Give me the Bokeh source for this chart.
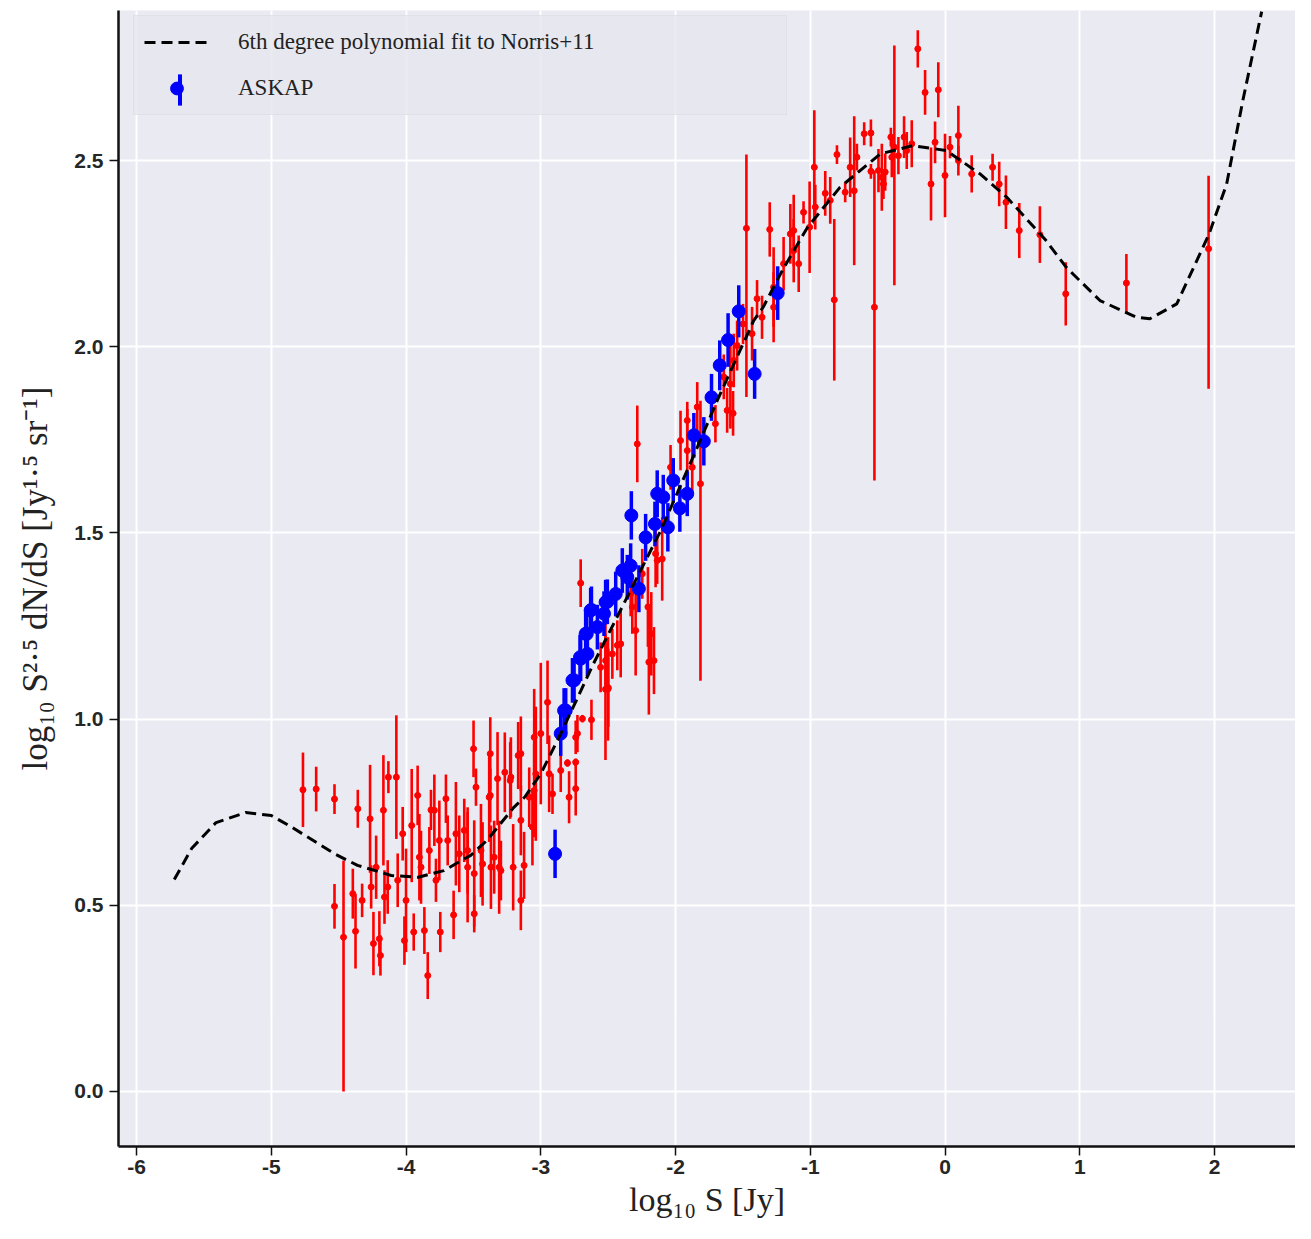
import numpy as np
from bokeh.plotting import figure
from bokeh.models import ColumnDataSource, Range1d, FixedTicker, Legend, LegendItem
from bokeh.embed import file_html
from bokeh.resources import INLINE

# ---------------- data ----------------
# Norris+11 (red) points with symmetric errors
red_x = [-4.765, -4.667, -4.531, -4.531, -4.395, -4.358, -4.375, -4.326, -4.267, -4.259,
         -4.242, -4.222, -4.198, -4.190, -4.168, -4.160, -4.131, -4.136, -4.072, -4.062,
         -4.025, -4.012, -4.000, -3.958, -3.943, -3.914, -3.901, -3.889, -3.864, -3.839,
         -3.827, -3.815, -3.790, -3.778, -3.746, -3.753, -3.704, -3.691, -3.647, -3.630,
         -3.605, -3.568, -3.543, -3.499, -3.481, -3.494, -3.432, -3.383, -3.375, -3.375,
         -3.321, -3.309, -3.346, -3.267, -3.227, -3.205, -3.168, -3.370, -3.296, -3.222,
         -3.148, -3.124, -3.086, -3.062, -3.037, -3.000, -2.950, -2.938, -2.913, -2.852,
         -2.802, -2.790, -2.741, -2.741, -2.691, -2.624, -2.501, -3.049, -3.148, -2.728,
         -3.543, -3.494, -3.444, -3.148, -3.049, -2.741,
         -2.704, -2.284, -2.499, -2.520, -2.198, -2.180, -2.205, -2.099, -2.296, -2.321,
         -2.432, -2.469, -2.556, -1.963, -1.913, -1.876, -2.037, -1.704, -1.617, -1.573,
         -2.136, -2.247, -1.839, -1.568, -1.543, -1.593, -1.499, -1.432, -1.913, -1.642,
         -2.148, -2.160, -2.407, -2.519, -2.333,
         -1.301, -1.395, -1.358, -1.272, -1.198, -1.123, -1.086, -1.050, -1.005, -0.970,
         -0.889, -0.852, -0.822, -0.802, -0.741, -0.704, -0.674, -0.654, -0.600, -0.550,
         -0.550, -0.494, -0.469, -0.444, -0.395, -0.346, -0.304, -0.284, -0.247, -0.202,
         -0.148, -0.050, -0.104, -0.074, 0.000, 0.037, 0.099, 0.099, 0.198, 0.353,
         0.402, 0.452, 0.551, 0.704, 0.896, 1.346, -1.272, -1.123, -1.148, -0.963,
         -0.457, -0.402]
red_y = [0.810, 0.812, 0.785, 0.497, 0.531, 0.759, 0.430, 0.513, 0.732, 0.549,
         0.397, 0.602, 0.410, 0.365, 0.755, 0.522, 0.844, 0.549, 0.844, 0.567,
         0.692, 0.405, 0.513, 0.714, 0.428, 0.795, 0.629, 0.602, 0.432, 0.311,
         0.647, 0.756, 0.755, 0.567, 0.428, 0.674, 0.786, 0.674, 0.474, 0.692,
         0.638, 0.701, 0.647, 0.920, 0.817, 0.585, 0.611, 0.790, 0.907, 0.795,
         0.840, 0.602, 0.629, 0.857, 0.835, 0.602, 0.902, 0.602, 0.593, 0.844,
         0.513, 0.607, 0.790, 0.710, 0.853, 0.961, 1.045, 0.853, 0.799, 0.862,
         0.882, 0.790, 0.813, 0.951, 1.001, 0.998, 1.081, 0.951, 0.907, 0.961,
         0.602, 0.477, 0.647, 0.728, 0.808, 0.884,
         1.365, 1.739, 1.084, 1.080, 1.153, 1.229, 1.301, 1.430, 1.238, 1.301,
         1.198, 1.175, 1.139, 1.748, 1.721, 1.676, 1.676, 1.793, 1.829, 1.821,
         1.426, 1.390, 1.838, 1.963, 2.003, 1.900, 2.061, 2.035, 1.802, 1.919,
         1.444, 1.157, 1.202, 1.157, 1.336,
         2.315, 2.129, 2.079, 2.106, 2.223, 2.312, 2.223, 2.361, 2.321, 2.482,
         2.412, 2.393, 2.126, 2.516, 2.415, 2.482, 2.419, 2.509, 2.572, 2.574,
         2.471, 2.473, 2.455, 2.469, 2.509, 2.513, 2.563, 2.527, 2.545, 2.800,
         2.683, 2.690, 2.437, 2.549, 2.460, 2.536, 2.567, 2.500, 2.464, 2.482,
         2.437, 2.388, 2.312, 2.301, 2.142, 2.171, 2.160, 2.258, 2.303, 2.375,
         2.437, 2.563]
red_err = [0.100, 0.060, 0.040, 0.060, 0.067, 0.051, 0.100, 0.045, 0.145, 0.058,
           0.085, 0.085, 0.074, 0.054, 0.148, 0.072, 0.043, 0.072, 0.166, 0.072,
           0.072, 0.065, 0.139, 0.152, 0.050, 0.080, 0.116, 0.098, 0.063, 0.063,
           0.063, 0.054, 0.096, 0.058, 0.054, 0.107, 0.065, 0.067, 0.065, 0.139,
           0.103, 0.085, 0.116, 0.076, 0.050, 0.143, 0.112, 0.120, 0.098, 0.072,
           0.125, 0.125, 0.098, 0.107, 0.103, 0.116, 0.090, 0.112, 0.080, 0.107,
           0.080, 0.090, 0.080, 0.103, 0.180, 0.190, 0.112, 0.103, 0.054, 0.058,
           0.010, 0.070, 0.072, 0.045, 0.010, 0.054, 0.139, 0.130, 0.100, 0.050,
           0.148, 0.050, 0.125, 0.094, 0.125, 0.010,
           0.064, 0.103, 0.105, 0.190, 0.141, 0.112, 0.107, 0.112, 0.121, 0.072,
           0.067, 0.067, 0.067, 0.080, 0.112, 0.072, 0.060, 0.050, 0.060, 0.060,
           0.063, 0.067, 0.067, 0.072, 0.067, 0.120, 0.054, 0.072, 0.050, 0.060,
           0.090, 0.090, 0.090, 0.070, 0.060,
           0.073, 0.050, 0.058, 0.094, 0.072, 0.096, 0.076, 0.030, 0.123, 0.153,
           0.060, 0.063, 0.217, 0.025, 0.027, 0.080, 0.200, 0.036, 0.031, 0.036,
           0.020, 0.058, 0.090, 0.050, 0.054, 0.050, 0.056, 0.050, 0.063, 0.050,
           0.060, 0.074, 0.098, 0.056, 0.112, 0.030, 0.080, 0.040, 0.050, 0.036,
           0.060, 0.072, 0.074, 0.076, 0.085, 0.078, 0.107, 0.085, 0.080, 0.060,
           0.040, 0.025]

# Norris+11 (red) points with asymmetric errors
red_x_asym = [-4.464, -1.815, -1.474, -0.524, -0.376, 1.956]
red_y_asym = [0.414, 1.632, 2.318, 2.106, 2.536, 2.263]
red_err_lo_asym = [0.414, 0.529, 0.453, 0.465, 0.371, 0.376]
red_err_hi_asym = [0.206, 0.223, 0.198, 0.367, 0.273, 0.196]

# ASKAP (blue) points
askap_x = [-2.894, -2.328, -2.136, -2.091, -2.017, -1.913, -1.968, -2.057, -2.153, -2.222,
           -1.864, -1.790, -2.395, -2.333, -2.272, -2.506, -2.444, -2.624, -2.659, -2.580,
           -2.704, -2.753, -2.654, -2.827, -2.531, -2.358, -2.852, -2.815, -2.765, -2.709,
           -2.667, -2.630, -2.519, -1.733, -1.672, -1.610, -1.531, -1.413, -1.242]
askap_y = [0.638, 1.547, 1.605, 1.596, 1.641, 1.605, 1.566, 1.515, 1.524, 1.488,
           1.762, 1.746, 1.399, 1.412, 1.350, 1.315, 1.336, 1.293, 1.229, 1.247,
           1.162, 1.104, 1.175, 1.023, 1.283, 1.381, 0.961, 1.023, 1.104, 1.166,
           1.229, 1.292, 1.314, 1.864, 1.950, 2.018, 2.095, 1.927, 2.144]
askap_err = [0.065, 0.065, 0.063, 0.060, 0.060, 0.060, 0.063, 0.065, 0.060, 0.063,
             0.060, 0.065, 0.060, 0.060, 0.063, 0.060, 0.060, 0.063, 0.060, 0.060,
             0.060, 0.060, 0.060, 0.060, 0.060, 0.060, 0.060, 0.060, 0.060, 0.060,
             0.060, 0.060, 0.060, 0.063, 0.067, 0.072, 0.070, 0.067, 0.072]

# 6th degree polynomial fit
fit_x = [-5.72, -5.59, -5.41, -5.19, -5.00, -4.85, -4.53, -4.36, -4.11, -3.91,
         -3.72, -3.52, -3.40, -3.20, -3.12, -3.00, -2.85, -2.61, -2.36, -2.11,
         -1.86, -1.69, -1.42, -1.35, -1.20, -1.02, -0.78, -0.48, -0.24, 0.01,
         0.26, 0.46, 0.75, 0.90, 1.15, 1.42, 1.52, 1.72, 1.96, 2.09,
         2.21, 2.35]
fit_y = [0.569, 0.653, 0.722, 0.749, 0.741, 0.710, 0.638, 0.607, 0.580, 0.575,
         0.593, 0.634, 0.674, 0.763, 0.790, 0.853, 0.962, 1.148, 1.327, 1.506,
         1.712, 1.856, 2.070, 2.106, 2.210, 2.321, 2.428, 2.518, 2.540, 2.527,
         2.464, 2.401, 2.285, 2.213, 2.124, 2.079, 2.075, 2.115, 2.303, 2.437,
         2.661, 2.900]

x_ticks = [-6, -5, -4, -3, -2, -1, 0, 1, 2]
x_tick_labels = ["-6", "-5", "-4", "-3", "-2", "-1", "0", "1", "2"]
y_ticks = [0.0, 0.5, 1.0, 1.5, 2.0, 2.5]
y_tick_labels = ["0.0", "0.5", "1.0", "1.5", "2.0", "2.5"]

fit_label = "6th degree polynomial fit to Norris+11"
askap_label = "ASKAP"
x_label = "log\u2081\u2080 S [Jy]"
y_label = "log\u2081\u2080 S\u00b2\u00b7\u2075 dN/dS [Jy\u00b9\u00b7\u2075 sr\u207b\u00b9]"

# ---------------- sources ----------------
rx = np.array(red_x + red_x_asym)
ry = np.array(red_y + red_y_asym)
rlo = np.array(red_err + red_err_lo_asym)
rhi = np.array(red_err + red_err_hi_asym)
red_src = ColumnDataSource(dict(x=rx, y=ry, y0=ry - rlo, y1=ry + rhi))

bx = np.array(askap_x)
by = np.array(askap_y)
be = np.array(askap_err)
blue_src = ColumnDataSource(dict(x=bx, y=by, y0=by - be, y1=by + be))

fit_src = ColumnDataSource(dict(x=fit_x, y=fit_y))

# ---------------- figure ----------------
p = figure(width=1295, height=1223, output_backend="svg", toolbar_location=None,
           x_range=Range1d(-6.134, 2.601), y_range=Range1d(-0.148, 2.903),
           min_border_left=118, min_border_right=0, min_border_top=10, min_border_bottom=77)
p.background_fill_color = "#EAEAF2"
p.border_fill_color = "white"
p.outline_line_color = None

for grid, ticks in ((p.xgrid, x_ticks), (p.ygrid, y_ticks)):
    grid.ticker = FixedTicker(ticks=ticks)
    grid.grid_line_color = "white"
    grid.grid_line_width = 2

p.xaxis.ticker = FixedTicker(ticks=x_ticks)
p.yaxis.ticker = FixedTicker(ticks=y_ticks)
p.xaxis.major_label_overrides = {t: l for t, l in zip(x_ticks, x_tick_labels)}
p.yaxis.major_label_overrides = {t: l for t, l in zip(y_ticks, y_tick_labels)}

for ax in (p.xaxis[0], p.yaxis[0]):
    ax.axis_line_color = "#111111"
    ax.axis_line_width = 2.5
    ax.major_tick_line_color = "#111111"
    ax.major_tick_line_width = 1.5
    ax.major_tick_out = 9
    ax.major_tick_in = 0
    ax.minor_tick_line_color = None
    ax.major_label_text_font = "Liberation Sans"
    ax.major_label_text_font_style = "bold"
    ax.major_label_text_font_size = "21px"
    ax.major_label_text_color = "#262626"
    ax.axis_label_text_font = "Liberation Serif"
    ax.axis_label_text_font_style = "normal"
    ax.axis_label_text_color = "#222222"

p.xaxis.major_label_standoff = 4
p.yaxis.major_label_standoff = 6
p.xaxis.axis_label_text_font_size = "34px"
p.yaxis.axis_label_text_font_size = "35px"
p.xaxis.axis_label = x_label
p.yaxis.axis_label = y_label
p.xaxis.axis_label_standoff = 4
p.yaxis.axis_label_standoff = 16

# red error bars + points
p.segment(x0="x", y0="y0", x1="x", y1="y1", source=red_src, line_color="#FF0000", line_width=2.6)
p.scatter(x="x", y="y", source=red_src, size=6, fill_color="#FF0000", line_color="#FF0000")

# ASKAP
p.segment(x0="x", y0="y0", x1="x", y1="y1", source=blue_src, line_color="#0000FF", line_width=3.5)
blue_dots = p.scatter(x="x", y="y", source=blue_src, size=13, fill_color="#0000FF", line_color="#0000FF")
# zero-width bars: invisible in the plot, used only as the vertical error-bar legend key
blue_bar_key = p.vbar(x="x", bottom="y0", top="y1", width=0, source=blue_src,
                      fill_color="#0000FF", line_color=None)

# fit
fit_r = p.line(x="x", y="y", source=fit_src, line_color="black", line_width=3, line_dash="11 6")

legend = Legend(items=[LegendItem(label=fit_label, renderers=[fit_r]),
                       LegendItem(label=askap_label, renderers=[blue_dots])],
                location=(15, 1031), margin=0, padding=10, spacing=14,
                glyph_width=65, glyph_height=32, label_height=32, label_width=538,
                label_standoff=29)
legend.label_text_font = "Liberation Serif"
legend.label_text_font_size = "23px"
legend.label_text_color = "#222222"
legend.background_fill_color = "#E6E6EE"
legend.background_fill_alpha = 0.85
legend.border_line_color = "#D9D9E1"
legend.border_line_width = 1.5
p.add_layout(legend)

# vertical error-bar key drawn over the ASKAP legend dot
bar_key = Legend(items=[LegendItem(label="", renderers=[blue_bar_key])],
                 location=(58.5, 1037.5), margin=0, padding=0, spacing=0,
                 glyph_width=5, glyph_height=39, label_height=39, label_width=0,
                 label_standoff=0)
bar_key.background_fill_alpha = 0
bar_key.border_line_color = None
p.add_layout(bar_key)

open("out.html", "w").write(file_html(p, INLINE))
